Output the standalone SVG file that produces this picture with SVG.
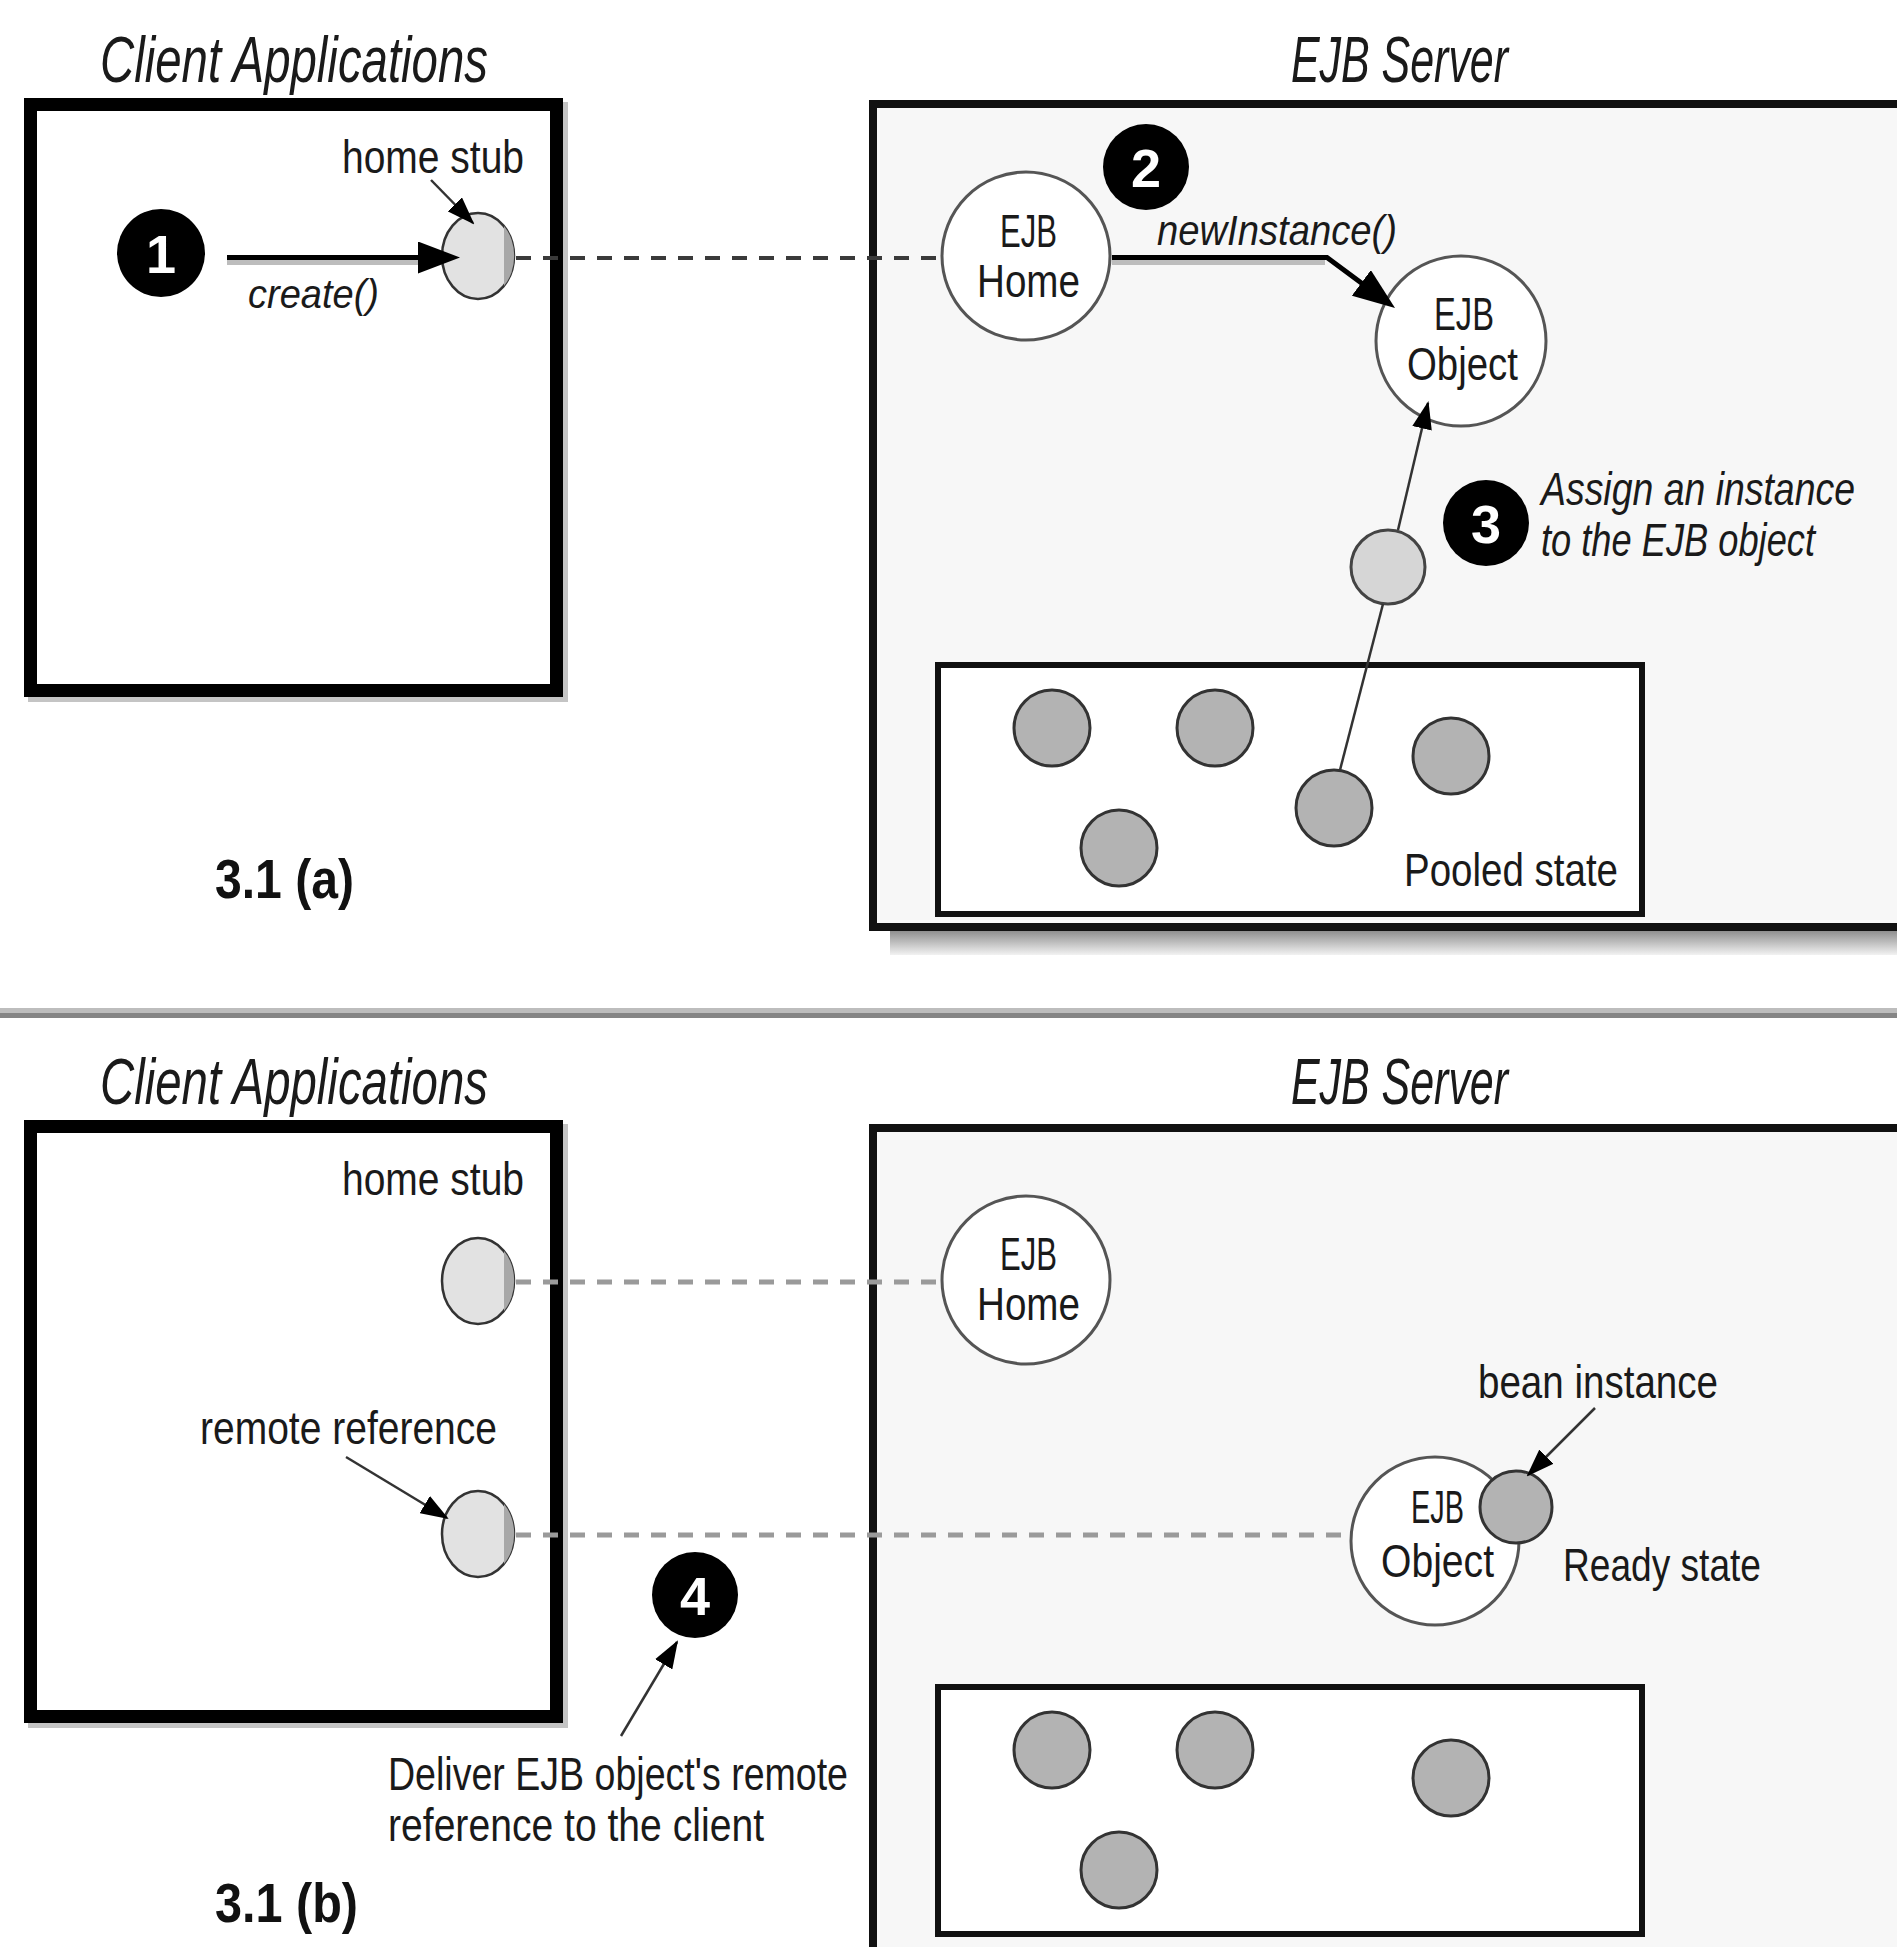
<svg xmlns="http://www.w3.org/2000/svg" width="1897" height="1947" viewBox="0 0 1897 1947">
<defs>
<style>
text{font-family:"Liberation Sans Narrow","Liberation Sans",Arial,sans-serif;fill:#1a1a1a}
.title{font-size:64px;font-style:italic}
.lbl{font-size:46px}
.ital{font-style:italic}
.fig{font-size:56px;font-weight:bold;fill:#111}
.num{font-size:54px;font-weight:bold;fill:#fff;text-anchor:middle}
.numc{fill:#000}
.client{fill:#fff;stroke:#000;stroke-width:13}
.server{fill:#f7f7f7;stroke:#111;stroke-width:8}
.pool{fill:#fff;stroke:#111;stroke-width:6}
.node{fill:#fff;stroke:#555;stroke-width:3}
.bean{fill:#b3b3b3;stroke:#333;stroke-width:3}
.bean2{fill:#d6d6d6;stroke:#444;stroke-width:3}
.thick{stroke:#000;stroke-width:5;fill:none}
.shadow{stroke:#bdbdbd;stroke-width:5;fill:none}
.thin{stroke:#333;stroke-width:2.5;fill:none}
.dashA{stroke:#3a3a3a;stroke-width:4;stroke-dasharray:15 12;fill:none}
.dashB{stroke:#9a9a9a;stroke-width:5;stroke-dasharray:15 12;fill:none}
</style>
<marker id="big" markerUnits="userSpaceOnUse" markerWidth="42" markerHeight="32" viewBox="0 0 42 32" refX="32" refY="16" orient="auto"><path d="M0,0 L42,16 L0,32 Z" fill="#000"/></marker>
<marker id="small" markerUnits="userSpaceOnUse" markerWidth="28" markerHeight="20" viewBox="0 0 28 20" refX="26" refY="10" orient="auto"><path d="M0,0 L28,10 L0,20 Z" fill="#000"/></marker>
<linearGradient id="shade" x1="0" y1="0" x2="0" y2="1"><stop offset="0" stop-color="#8f8f8f"/><stop offset="1" stop-color="#f2f2f2"/></linearGradient>
<g id="stub"><ellipse rx="36" ry="43" fill="#e2e2e2" stroke="#333" stroke-width="2.5"/><path d="M26,-30 A36,43 0 0 1 26,30 Z" fill="#a8a8a8"/></g>
</defs>
<rect x="0" y="0" width="1897" height="1947" fill="#fff"/>

<!-- ===== Part (a) ===== -->
<g id="client-a">
<rect x="28" y="102" width="540" height="600" fill="#c4c4c4"/>
<rect class="client" x="30.5" y="104.5" width="526" height="586"/>
<text class="title" x="100" y="82" textLength="388" lengthAdjust="spacingAndGlyphs">Client Applications</text>
</g>
<g id="server-a">
<rect x="890" y="931" width="1007" height="24" fill="url(#shade)"/>
<rect class="server" x="873" y="104" width="1100" height="823"/>
<text class="title" x="1291" y="82" textLength="217" lengthAdjust="spacingAndGlyphs">EJB Server</text>
</g>
<g id="pool-a">
<rect class="pool" x="938" y="665" width="704" height="249"/>
<text class="lbl" x="1404" y="886" textLength="214" lengthAdjust="spacingAndGlyphs">Pooled state</text>
</g>
<g id="home-stub-a">
<use href="#stub" x="478" y="256"/>
<text class="lbl" x="342" y="173" textLength="182" lengthAdjust="spacingAndGlyphs">home stub</text>
</g>
<g id="step1">
<circle class="numc" cx="161" cy="253" r="44"/>
<text class="num" x="161" y="273">1</text>
</g>
<g id="ejb-home-a">
<circle class="node" cx="1026" cy="256" r="84"/>
<text class="lbl" x="1000" y="247" textLength="57" lengthAdjust="spacingAndGlyphs">EJB</text>
<text class="lbl" x="977" y="297" textLength="103" lengthAdjust="spacingAndGlyphs">Home</text>
</g>
<g id="step2">
<circle class="numc" cx="1146" cy="167" r="43"/>
<text class="num" x="1146" y="187">2</text>
</g>
<g id="ejb-object-a">
<circle class="node" cx="1461" cy="341" r="85"/>
<text class="lbl" x="1434" y="330" textLength="60" lengthAdjust="spacingAndGlyphs">EJB</text>
<text class="lbl" x="1407" y="380" textLength="111" lengthAdjust="spacingAndGlyphs">Object</text>
</g>
<g id="step3">
<circle class="numc" cx="1486" cy="523" r="43"/>
<text class="num" x="1486" y="543">3</text>
<text class="lbl ital" x="1541" y="505" textLength="314" lengthAdjust="spacingAndGlyphs">Assign an instance</text>
<text class="lbl ital" x="1541" y="556" textLength="274" lengthAdjust="spacingAndGlyphs">to the EJB object</text>
</g>
<g id="assigned-bean-a">
<circle class="bean2" cx="1388" cy="567" r="37"/>
</g>
<g id="pooled-beans-a">
<circle class="bean" cx="1052" cy="728" r="38"/>
<circle class="bean" cx="1215" cy="728" r="38"/>
<circle class="bean" cx="1451" cy="756" r="38"/>
<circle class="bean" cx="1334" cy="808" r="38"/>
<circle class="bean" cx="1119" cy="848" r="38"/>
</g>
<text class="fig" x="215" y="898" textLength="139" lengthAdjust="spacingAndGlyphs">3.1 (a)</text>

<!-- divider -->
<rect x="0" y="1008" width="1897" height="5" fill="#bdbdbd"/>
<rect x="0" y="1013" width="1897" height="5" fill="#858585"/>

<!-- ===== Part (b) ===== -->
<g id="client-b">
<rect x="28" y="1124" width="540" height="604" fill="#c4c4c4"/>
<rect class="client" x="30.5" y="1126.5" width="526" height="590"/>
<text class="title" x="100" y="1104" textLength="388" lengthAdjust="spacingAndGlyphs">Client Applications</text>
</g>
<g id="server-b">
<rect class="server" x="873" y="1128" width="1100" height="1000"/>
<text class="title" x="1291" y="1104" textLength="217" lengthAdjust="spacingAndGlyphs">EJB Server</text>
</g>
<g id="pool-b">
<rect class="pool" x="938" y="1687" width="704" height="247"/>
</g>
<g id="home-stub-b">
<use href="#stub" x="478" y="1281"/>
<text class="lbl" x="342" y="1195" textLength="182" lengthAdjust="spacingAndGlyphs">home stub</text>
</g>
<g id="remote-ref-b">
<use href="#stub" x="478" y="1534"/>
<text class="lbl" x="200" y="1444" textLength="297" lengthAdjust="spacingAndGlyphs">remote reference</text>
</g>
<g id="ejb-home-b">
<circle class="node" cx="1026" cy="1280" r="84"/>
<text class="lbl" x="1000" y="1270" textLength="57" lengthAdjust="spacingAndGlyphs">EJB</text>
<text class="lbl" x="977" y="1320" textLength="103" lengthAdjust="spacingAndGlyphs">Home</text>
</g>
<g id="ejb-object-b">
<circle class="node" cx="1435" cy="1541" r="84"/>
<text class="lbl" x="1411" y="1523" textLength="53" lengthAdjust="spacingAndGlyphs">EJB</text>
<text class="lbl" x="1381" y="1577" textLength="113" lengthAdjust="spacingAndGlyphs">Object</text>
</g>
<g id="bean-instance-b">
<circle class="bean" cx="1516" cy="1507" r="36"/>
<text class="lbl" x="1478" y="1398" textLength="240" lengthAdjust="spacingAndGlyphs">bean instance</text>
<text class="lbl" x="1563" y="1581" textLength="198" lengthAdjust="spacingAndGlyphs">Ready state</text>
</g>
<g id="step4">
<circle class="numc" cx="695" cy="1595" r="43"/>
<text class="num" x="695" y="1615">4</text>
<text class="lbl" x="388" y="1790" textLength="460" lengthAdjust="spacingAndGlyphs">Deliver EJB object's remote</text>
<text class="lbl" x="388" y="1841" textLength="376" lengthAdjust="spacingAndGlyphs">reference to the client</text>
</g>
<g id="pooled-beans-b">
<circle class="bean" cx="1052" cy="1750" r="38"/>
<circle class="bean" cx="1215" cy="1750" r="38"/>
<circle class="bean" cx="1451" cy="1778" r="38"/>
<circle class="bean" cx="1119" cy="1870" r="38"/>
</g>
<text class="fig" x="215" y="1922" textLength="143" lengthAdjust="spacingAndGlyphs">3.1 (b)</text>

<!-- ===== Connectors ===== -->
<g id="connectors">
<line class="dashA" x1="516" y1="258" x2="942" y2="258"/>
<line class="shadow" x1="227" y1="262.5" x2="424" y2="262.5"/>
<line class="thick" x1="227" y1="257.5" x2="450" y2="257.5" marker-end="url(#big)"/>
<line class="thin" x1="431" y1="180" x2="473" y2="223" marker-end="url(#small)"/>
<text class="lbl ital" x="248" y="308" textLength="131" lengthAdjust="spacingAndGlyphs" style="font-size:40px">create()</text>
<polyline class="shadow" points="1112,262.5 1325,262.5"/>
<polyline class="thick" points="1112,257.5 1327,257.5 1387,302" marker-end="url(#big)"/>
<text class="lbl ital" x="1157" y="245" textLength="240" lengthAdjust="spacingAndGlyphs" style="font-size:42px">newInstance()</text>
<line class="thin" x1="1340" y1="770" x2="1383" y2="604"/>
<line class="thin" x1="1398" y1="530" x2="1428" y2="403" marker-end="url(#small)"/>
<line class="dashB" x1="516" y1="1282" x2="941" y2="1282"/>
<line class="dashB" x1="516" y1="1535" x2="1351" y2="1535"/>
<line class="thin" x1="1595" y1="1408" x2="1528" y2="1475" marker-end="url(#small)"/>
<line class="thin" x1="346" y1="1457" x2="447" y2="1518" marker-end="url(#small)"/>
<line class="thin" x1="621" y1="1736" x2="677" y2="1642" marker-end="url(#small)"/>
</g>
</svg>
